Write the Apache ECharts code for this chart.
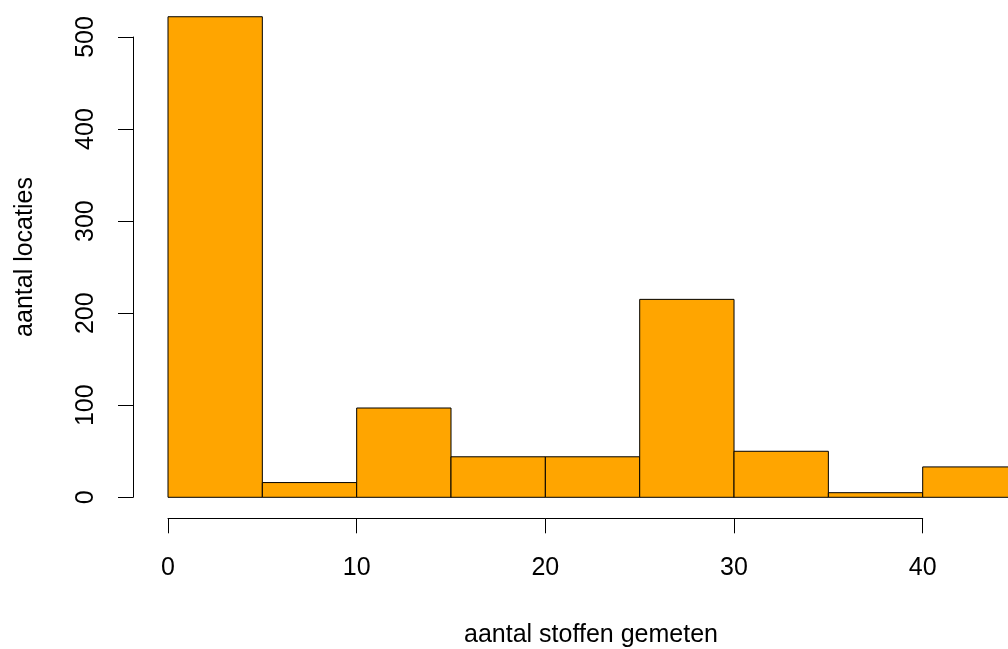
<!DOCTYPE html>
<html>
<head>
<meta charset="utf-8">
<script src="https://cdn.jsdelivr.net/npm/echarts@6/dist/echarts.min.js"></script>
<style>html,body{margin:0;padding:0;background:#fff;}#c{width:1008px;height:649px;}</style>
</head>
<body>
<div id="c"></div>
<script>
const binStarts = [0, 5, 10, 15, 20, 25, 30, 35, 40];
const binEnds   = [5, 10, 15, 20, 25, 30, 35, 40, 45];
const counts    = [522, 16, 97, 44, 44, 215, 50, 5, 33];
const xTicks = [0, 10, 20, 30, 40];
const yTicks = [0, 100, 200, 300, 400, 500];
const xTitle = 'aantal stoffen gemeten';
const yTitle = 'aantal locaties';

const data = binStarts.map((s, i) => [s, binEnds[i], counts[i]]);
const font = 'Liberation Sans, Arial, sans-serif';

const chart = echarts.init(document.getElementById('c'));
chart.setOption({
  animation: false,
  backgroundColor: '#fff',
  grid: { left: 168, right: 85.3, top: 37, bottom: 151.7, containLabel: false },
  xAxis: {
    type: 'value', min: xTicks[0], max: xTicks[xTicks.length - 1], interval: 10,
    offset: 21,
    axisLine: { show: true, onZero: false, lineStyle: { color: '#000', width: 1 } },
    axisTick: { show: true, length: 15, lineStyle: { color: '#000', width: 1 } },
    axisLabel: { color: '#000', fontSize: 25, fontFamily: font, margin: 37 },
    splitLine: { show: false }
  },
  yAxis: {
    type: 'value', min: yTicks[0], max: yTicks[yTicks.length - 1], interval: 100,
    offset: 35,
    axisLine: { show: true, onZero: false, lineStyle: { color: '#000', width: 1 } },
    axisTick: { show: true, length: 15, lineStyle: { color: '#000', width: 1 } },
    axisLabel: { color: '#000', fontSize: 25, fontFamily: font, rotate: 90, margin: 34, align: 'center', verticalAlign: 'bottom' },
    splitLine: { show: false }
  },
  graphic: [
    { type: 'text', x: 591, y: 635, style: { text: xTitle, fontSize: 25, fontFamily: font, fill: '#000', align: 'center', verticalAlign: 'middle' } },
    { type: 'text', x: 25, y: 257, rotation: Math.PI / 2, style: { text: yTitle, fontSize: 25, fontFamily: font, fill: '#000', align: 'center', verticalAlign: 'middle' } }
  ],
  series: [{
    type: 'custom',
    clip: false,
    data: data,
    encode: { x: [0, 1], y: 2 },
    renderItem: function (params, api) {
      const p0 = api.coord([api.value(0), api.value(2)]);
      const p1 = api.coord([api.value(1), 0]);
      return {
        type: 'rect',
        shape: { x: p0[0], y: p0[1], width: p1[0] - p0[0], height: p1[1] - p0[1] },
        style: { fill: '#FFA500', stroke: '#000', lineWidth: 1 }
      };
    }
  }]
});
</script>
</body>
</html>
